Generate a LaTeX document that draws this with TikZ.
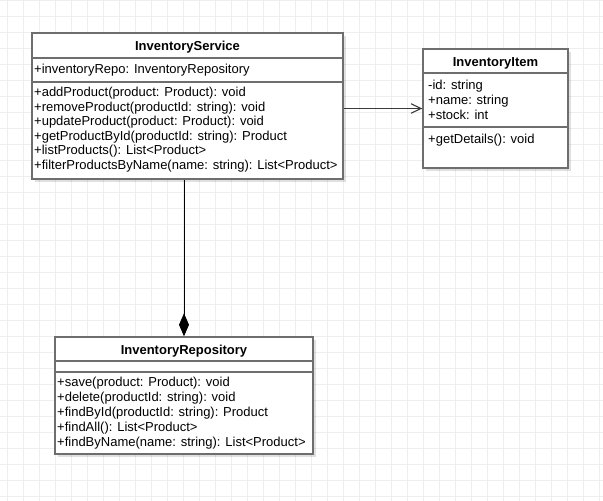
\documentclass[tikz,border=0pt]{standalone}
\usepackage{fontspec}
\setmainfont{Liberation Sans}
\usetikzlibrary{arrows.meta,fit,shadows}
\definecolor{gridc}{HTML}{EEEEEE}
\definecolor{boxc}{HTML}{6E6E6E}
\definecolor{connc}{HTML}{3A3A3A}
\begin{document}
\begin{tikzpicture}[x=1pt,y=-1pt,
  umlbox/.style={draw=boxc, line width=1.4pt, fill=white, inner sep=0pt,
    drop shadow={shadow xshift=3pt, shadow yshift=-3pt, opacity=0.12, fill=black}},
  sep/.style={draw=boxc, line width=1.4pt},
  title/.style={font=\fontsize{13}{15}\selectfont\bfseries, inner sep=0pt, text height=9.3pt, text depth=0pt},
  member/.style={font=\fontsize{13}{15}\selectfont, anchor=west, inner sep=0pt, text height=9.3pt, text depth=0pt},
  conn/.style={draw=connc, line width=1.1pt},
  comp/.style={draw=black, line width=1pt}
]
\useasboundingbox (0,0) rectangle (603,501);
\fill[white] (0,0) rectangle (603,501);
\foreach \i in {0,...,37} \draw[gridc, line width=1pt] (7.7+16*\i,0) -- (7.7+16*\i,501);
\foreach \j in {0,...,31} \draw[gridc, line width=1pt] (0,0.7+16*\j) -- (603,0.7+16*\j);

% boxes
\node[umlbox, fit={(32,33)(343,179)}] (svc) {};
\node[umlbox, fit={(423,49)(568,168)}] (item) {};
\node[umlbox, fit={(55,337)(313,454)}] (repo) {};

% InventoryService
\node[title] (svct) at (187.5,46) {InventoryService};
\draw[sep] (32,58) -- (343,58);
\node[member] (svca) at (34,69) {+inventoryRepo: InventoryRepository};
\draw[sep] (32,82) -- (343,82);
\node[member] (svcm1) at (34,92) {+addProduct(product: Product): void};
\node[member] (svcm2) at (34,106.5) {+removeProduct(productId: string): void};
\node[member] (svcm3) at (34,121) {+updateProduct(product: Product): void};
\node[member] (svcm4) at (34,135.5) {+getProductById(productId: string): Product};
\node[member] (svcm5) at (34,150) {+listProducts(): List<Product>};
\node[member] (svcm6) at (34,164.5) {+filterProductsByName(name: string): List<Product>};

% InventoryItem
\node[title] (itemt) at (495.5,61.5) {InventoryItem};
\draw[sep] (423,73) -- (568,73);
\node[member] (itema1) at (428,84.5) {-id: string};
\node[member] (itema2) at (428,99.5) {+name: string};
\node[member] (itema3) at (428,114.5) {+stock: int};
\draw[sep] (423,127) -- (568,127);
\node[member] (itemm1) at (428,138.5) {+getDetails(): void};

% InventoryRepository
\node[title] (repot) at (184,350) {InventoryRepository};
\draw[sep] (55,361) -- (313,361);
\draw[sep] (55,372) -- (313,372);
\node[member] (repom1) at (57,381.5) {+save(product: Product): void};
\node[member] (repom2) at (57,396.5) {+delete(productId: string): void};
\node[member] (repom3) at (57,411.5) {+findById(productId: string): Product};
\node[member] (repom4) at (57,426.5) {+findAll(): List<Product>};
\node[member] (repom5) at (57,441.5) {+findByName(name: string): List<Product>};

% connectors
\draw[conn, -{Straight Barb[length=10pt,width=9.5pt]}] (svc.east |- item.west) -- (item.west);
\draw[comp, -{Diamond[length=23pt,width=10pt]}] (svc.south -| repo.north) -- (repo.north);
\end{tikzpicture}
\end{document}
